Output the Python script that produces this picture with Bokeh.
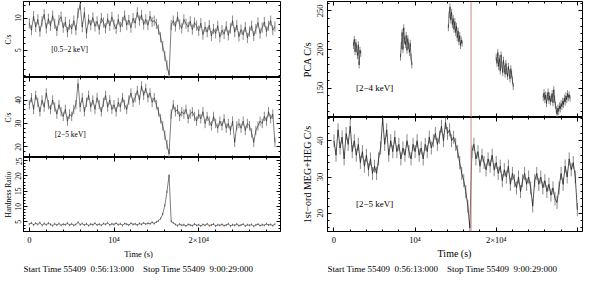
import numpy as np
from bokeh.plotting import figure
from bokeh.layouts import row, column
from bokeh.models import Range1d, LinearAxis, SingleIntervalTicker, Label, Span
from bokeh.embed import file_html
from bokeh.resources import INLINE

FONT = "Liberation Serif"

# ---------------- data ----------------
t_bin_left = 250.0   # s
soft_rate = [9.2, 8.1, 10.3, 8.6, 9.8, 7.9, 9.5, 10.6, 8.4, 9.9,
             8.8, 10.4, 9.1, 8.0, 9.7, 10.2, 8.5, 9.4, 7.8, 9.0,
             8.3, 9.6, 8.1, 10.8, 12.1, 8.6, 10.9, 7.6, 9.8, 8.9,
             10.1, 8.7, 9.5, 8.2, 10.0, 9.3, 8.4, 9.9, 8.8, 10.2,
             9.0, 8.3, 9.8, 8.6, 9.4, 10.4, 8.9, 9.7, 8.5, 10.0,
             9.2, 10.9, 9.6, 10.5, 9.0, 9.8, 8.9, 10.3, 9.4, 9.6,
             9.1, 8.2, 7.0, 5.6, 4.1, 2.6, 1.1, 8.9, 9.6, 8.7,
             10.2, 9.0, 8.4, 9.8, 9.1, 8.6, 9.5, 8.2, 9.3, 8.8,
             8.0, 9.2, 7.4, 8.6, 7.8, 8.9, 7.2, 8.3, 7.6, 8.8,
             7.0, 8.1, 7.5, 8.7, 7.3, 8.4, 9.6, 7.8, 8.9, 7.1,
             8.2, 7.4, 8.6, 6.9, 7.9, 8.8, 7.2, 8.3, 9.3, 7.6,
             8.5, 9.4, 7.9, 8.8, 9.6, 8.1, 8.7]
soft_err = 0.8
hard_rate = [38, 41, 36, 42, 39, 35, 40, 37, 43, 38,
             36, 40, 37, 34, 38, 35, 33, 36, 31, 34,
             33, 36, 38, 47, 37, 41, 35, 39, 42, 37,
             40, 36, 41, 38, 35, 39, 42, 37, 40, 36,
             38, 35, 39, 37, 41, 38, 36, 40, 43, 39,
             41, 44, 40, 46, 42, 45, 41, 43, 39, 41,
             38, 35, 32, 29, 25, 21, 17, 34, 38, 35,
             36, 33, 35, 34, 36, 32, 34, 35, 33, 31,
             34, 32, 35, 30, 33, 31, 29, 33, 30, 28,
             31, 29, 32, 28, 30, 27, 31, 22, 29, 30,
             28, 31, 27, 30, 29, 26, 22, 27, 29, 31,
             30, 33, 31, 35, 32, 34, 22]
hard_err = 2.0
hardness = [4.3, 4.7, 4.0, 4.6, 4.2, 4.8, 3.9, 4.5, 4.1, 4.6,
            4.2, 3.8, 4.4, 4.0, 4.5, 3.9, 4.3, 4.1, 4.6, 4.0,
            4.4, 3.9, 4.2, 4.9, 4.1, 4.5, 4.0, 4.4, 3.8, 4.3,
            4.1, 4.6, 4.0, 4.3, 3.9, 4.5, 4.2, 4.7, 4.0, 4.4,
            4.2, 4.6, 4.1, 4.4, 3.9, 4.5, 4.3, 4.0, 4.6, 4.2,
            4.4, 4.0, 4.5, 4.2, 4.7, 4.3, 4.6, 4.4, 4.9, 4.5,
            5.0, 5.4, 6.1, 7.6, 10.4, 14.8, 20.2, 5.2, 4.7, 4.2,
            3.8, 4.3, 3.9, 4.1, 3.7, 4.2, 4.0, 3.8, 4.3, 3.9,
            4.1, 3.7, 4.2, 3.9, 4.4, 3.8, 4.0, 4.3, 3.7, 4.1,
            3.9, 4.2, 3.8, 4.0, 4.4, 3.7, 4.1, 3.9, 4.3, 3.8,
            4.0, 4.3, 3.7, 4.1, 3.9, 4.2, 3.6, 4.0, 4.3, 3.8,
            4.1, 3.9, 4.4, 4.0, 4.2, 3.8, 4.3]
hardness_err = 0.35

t_bin_right = 250.0  # s
meg_heg_rate = [40, 36, 43, 38, 41, 35, 42, 39, 44, 37,
                40, 36, 39, 34, 37, 33, 36, 32, 35, 31,
                33, 31, 35, 38, 46, 39, 43, 36, 40, 37,
                41, 37, 39, 35, 38, 36, 40, 37, 35, 39,
                37, 40, 36, 38, 35, 39, 37, 41, 38, 40,
                42, 39, 41, 44, 40, 45, 42, 43, 40, 41,
                39, 37, 34, 31, 29, 26, 22, 16, 37, 39,
                35, 37, 33, 36, 34, 32, 35, 33, 36, 32,
                34, 31, 33, 29, 32, 30, 33, 28, 31, 29,
                27, 30, 26, 29, 31, 28, 30, 27, 22, 29,
                31, 28, 30, 27, 29, 26, 28, 25, 27, 24,
                23, 27, 31, 28, 33, 30, 35, 32, 34, 30, 21]
meg_heg_err = 1.8

pca_dt = 100.0
pca_starts = [2400, 8200, 14100, 20000, 25800]
pca_seg1 = [205, 213, 197, 209, 201, 192, 206, 180, 199, 195]
pca_seg2 = [190, 205, 222, 200, 228, 212, 206, 218, 199, 214, 205, 196, 208, 190, 180]
pca_seg3 = [228, 245, 255, 238, 248, 232, 240, 226, 236, 222, 230, 215, 224, 210, 218, 205, 212, 208]
pca_seg4 = [190, 182, 196, 178, 188, 172, 193, 180, 170, 186, 175, 168, 182, 172, 165, 178,
            170, 162, 175, 168, 160, 152]
pca_seg5 = [138, 144, 135, 141, 130, 139, 145, 134, 140, 132, 137, 143, 131, 148, 136, 128, 122,
            116, 124, 120, 127, 123, 130, 126, 133, 129, 137, 132, 140, 135, 143, 138, 141, 137]
pca_segments = [pca_seg1, pca_seg2, pca_seg3, pca_seg4, pca_seg5]
pca_err = 4.5

t_event = 16900
x_tick_labels = {0: "0", 10000: "10\u2074", 20000: "2\u00d710\u2074", 30000: ""}
time_label = "Time (s)"
start_text = "Start Time 55409\u00a0\u00a00:56:13:000\u00a0\u00a0\u00a0\u00a0Stop Time 55409\u00a0\u00a09:00:29:000"

# ---------------- helpers ----------------
t_left = np.arange(len(soft_rate)) * t_bin_left
t_right = np.arange(len(meg_heg_rate)) * t_bin_right
pca_t, pca_v = [], []
for s, seg in zip(pca_starts, pca_segments):
    pca_t += list(s + np.arange(len(seg)) * pca_dt) + [np.nan]
    pca_v += list(seg) + [np.nan]
pca_t = np.array(pca_t)
pca_v = np.array(pca_v, dtype=float)

LINE = "#262626"
ERRC = "#8a8a8a"


def make_fig(w, h, xr, yr, bl, br, bt, bb, outline=True):
    p = figure(width=w, height=h, x_range=Range1d(*xr), y_range=Range1d(*yr),
               x_axis_type=None, y_axis_type=None, output_backend="svg",
               toolbar_location=None, min_border_left=bl, min_border_right=br,
               min_border_top=bt, min_border_bottom=bb)
    p.outline_line_color = "black" if outline else None
    p.outline_line_width = 1
    return p


def draw_curve(p, t, v, err, lw=0.6):
    v = np.asarray(v, dtype=float)
    p.segment(x0=t, y0=v - err, x1=t, y1=v + err, line_color=ERRC, line_width=1)
    p.line(t, v, line_color=LINE, line_width=lw)


def add_axis(p, side, interval, fs=None, label=None, label_fs=None, overrides=None,
             standoff=2, label_standoff=3, tick_in=4, minor_in=2, fixed=None):
    ax = LinearAxis(ticker=SingleIntervalTicker(interval=interval, num_minor_ticks=5))
    ax.major_tick_in = tick_in
    ax.major_tick_out = 0
    ax.minor_tick_in = minor_in
    ax.minor_tick_out = 0
    ax.axis_line_color = "black"
    ax.major_tick_line_color = "black"
    ax.minor_tick_line_color = "black"
    if fixed is not None:
        ax.fixed_location = fixed
    if fs is None:
        ax.major_label_text_font_size = "0px"
        ax.major_label_standoff = 0
        ax.major_label_text_alpha = 0
    else:
        ax.major_label_text_font = FONT
        ax.major_label_text_font_size = fs
        ax.major_label_text_color = "black"
        ax.major_label_standoff = standoff
        if side in ("left", "right"):
            ax.major_label_orientation = "parallel"
    if overrides:
        ax.major_label_overrides = overrides
    if label:
        ax.axis_label = label
        ax.axis_label_text_font = FONT
        ax.axis_label_text_font_size = label_fs
        ax.axis_label_text_font_style = "normal"
        ax.axis_label_text_color = "black"
        ax.axis_label_standoff = label_standoff
    p.add_layout(ax, side)
    return ax


def mirror_axes(p, xr, yr, yint, top=True, bottom=True):
    add_axis(p, "right", yint, fixed=xr[1])
    if top:
        add_axis(p, "above", 10000, fixed=yr[1])
    if bottom:
        add_axis(p, "below", 10000, fixed=yr[0])


def add_note(p, x, y, text, fs):
    p.add_layout(Label(x=x, y=y, text=text, text_font=FONT, text_font_size=fs,
                       text_baseline="middle", text_align="left", text_color="black"))


def screen_text(p, x, y, text, fs, align):
    p.add_layout(Label(x=x, y=y, x_units="screen", y_units="screen", text=text,
                       text_font=FONT, text_font_size=fs, text_baseline="middle",
                       text_align=align, text_color="black"))


LXR = (-690, 29660)
RXR = (-800, 30640)
LW, RW = 292, 292
LFS, LLFS = "7.5px", "7.5px"
RFS, RLFS = "8.5px", "10px"
TXT_H = 27

# ---- left column ----
yr1 = (0.7, 12.6)
f1 = make_fig(LW, 77, LXR, yr1, 21, 12, 1, 0)
draw_curve(f1, t_left, soft_rate, soft_err)
add_axis(f1, "left", 5, LFS, "C/s", LLFS, standoff=2, label_standoff=0)
mirror_axes(f1, LXR, yr1, 5)
add_note(f1, 2600, 5.1, "[0.5\u22122 keV]", "7.5px")

yr2 = (15.5, 49.6)
f2 = make_fig(LW, 80, LXR, yr2, 21, 12, 0, 0)
draw_curve(f2, t_left, hard_rate, hard_err)
add_axis(f2, "left", 10, LFS, "C/s", LLFS, standoff=2, label_standoff=0)
mirror_axes(f2, LXR, yr2, 10)
add_note(f2, 3000, 25.5, "[2\u22125 keV]", "7.5px")

yr3 = (1.9, 26.0)
f3 = make_fig(LW, 90, LXR, yr3, 21, 12, 0, 14)
draw_curve(f3, t_left, hardness, hardness_err)
add_axis(f3, "left", 5, LFS, "Hardness Ratio", LLFS, standoff=2, label_standoff=0)
mirror_axes(f3, LXR, yr3, 5, bottom=False)
add_axis(f3, "below", 10000, "8.5px", overrides=x_tick_labels, standoff=3)

t3 = make_fig(LW, TXT_H, (0, 1), (0, 1), 21, 12, 0, 0, outline=False)
screen_text(t3, 115, 21, time_label, "8.5px", "center")
screen_text(t3, 0, 6, start_text, "9px", "left")

# ---- right column ----
yr4 = (112, 262)
f4 = make_fig(RW, 117, RXR, yr4, 35, 2, 1, 0)
draw_curve(f4, pca_t, pca_v, pca_err, lw=0.7)
f4.add_layout(Span(location=t_event, dimension="height", line_color="#c98a8a", line_width=1))
add_axis(f4, "left", 50, RFS, "PCA C/s", RLFS, standoff=4, label_standoff=2)
mirror_axes(f4, RXR, yr4, 50)
add_note(f4, 2700, 150, "[2\u22124 keV]", "9px")

yr5 = (15.0, 46.4)
f5 = make_fig(RW, 130, RXR, yr5, 35, 2, 0, 14)
draw_curve(f5, t_right, meg_heg_rate, meg_heg_err, lw=0.8)
f5.add_layout(Span(location=t_event, dimension="height", line_color="#c98a8a", line_width=1))
add_axis(f5, "left", 10, RFS, "1st\u2212ord MEG+HEG C/s", RLFS, standoff=4, label_standoff=2)
mirror_axes(f5, RXR, yr5, 10, bottom=False)
add_axis(f5, "below", 10000, "8.5px", overrides=x_tick_labels, standoff=3)
add_note(f5, 2700, 22.6, "[2\u22125 keV]", "9px")

t5 = make_fig(RW, TXT_H, (0, 1), (0, 1), 35, 2, 0, 0, outline=False)
screen_text(t5, 127, 21, time_label, "10px", "center")
screen_text(t5, 0, 6, start_text, "9px", "left")

layout = row(column(f1, f2, f3, t3), column(f4, f5, t5))
open("out.html", "w").write(file_html(layout, INLINE))
